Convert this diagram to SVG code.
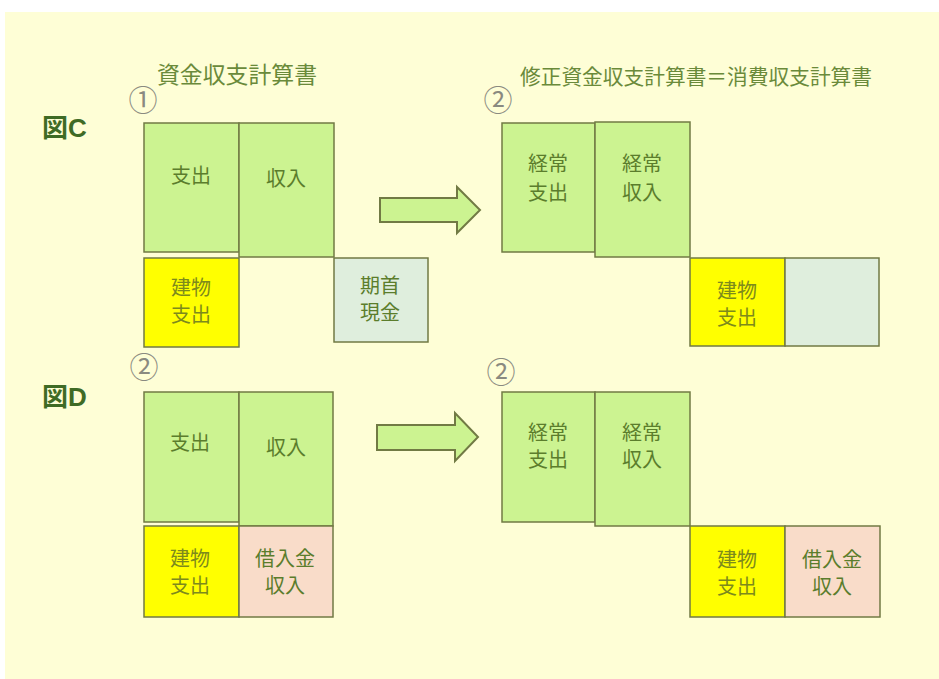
<svg xmlns="http://www.w3.org/2000/svg" width="939" height="679" viewBox="0 0 939 679">
<style>
.bx{stroke:#717a44;stroke-width:1.5}
.g{fill:#ccf391}
.y{fill:#ffff00}
.c{fill:#dfeedd}
.p{fill:#f9dcc9}
.t{font-family:"Noto Sans CJK JP","Noto Sans",sans-serif;font-size:20px;fill:#5b7d2c;text-anchor:middle}
.ty{fill:#7d8a1c}
.h{font-family:"Noto Sans CJK JP","Noto Sans",sans-serif;fill:#6a8a3a}
.n{font-family:"Noto Sans CJK JP","Noto Sans",sans-serif;font-size:29px;fill:#8a8a80;text-anchor:middle}
.f{font-family:"Liberation Sans","Noto Sans CJK JP",sans-serif;font-size:26px;font-weight:bold;fill:#3f6b25}
.ar{fill:#ccf391;stroke:#717a44;stroke-width:2}
</style>
<rect x="0" y="0" width="939" height="679" fill="#ffffff"/>
<rect x="5" y="12" width="934" height="667" fill="#fefed6"/>

<g id="headings">
<text class="h" x="157" y="83" font-size="23" textLength="160" lengthAdjust="spacingAndGlyphs">資金収支計算書</text>
<text class="h" x="520" y="84" font-size="21" textLength="352" lengthAdjust="spacingAndGlyphs">修正資金収支計算書＝消費収支計算書</text>
<text class="f" x="42" y="137">図C</text>
<text class="f" x="42" y="406">図D</text>
<text class="n" x="143" y="111">①</text>
<text class="n" x="498" y="111">②</text>
<text class="n" x="144" y="378">②</text>
<text class="n" x="501" y="383">②</text>
</g>

<g id="connectors">
<polygon class="ar" points="380,198 457,198 457,187 480,210 457,233 457,222 380,222"/>
<polygon class="ar" points="377,425 455,425 455,413 478,437 455,461 455,450 377,450"/>
</g>

<g id="c1-shishutsu"><rect class="bx g" x="144" y="123" width="95" height="129"/><text class="t" x="191" y="183">支出</text></g>
<g id="c1-shunyu"><rect class="bx g" x="239" y="123" width="95" height="134"/><text class="t" x="286" y="186">収入</text></g>
<g id="c1-tatemono"><rect class="bx y" x="144" y="258" width="95" height="89"/><text class="t ty" x="191" y="295">建物</text><text class="t ty" x="191" y="322">支出</text></g>
<g id="c1-kishu"><rect class="bx c" x="334" y="258" width="94" height="84"/><text class="t" x="380" y="293">期首</text><text class="t" x="380" y="320">現金</text></g>

<g id="c2-keijo-shishutsu"><rect class="bx g" x="502" y="123" width="93" height="129"/><text class="t" x="548" y="171">経常</text><text class="t" x="548" y="200">支出</text></g>
<g id="c2-keijo-shunyu"><rect class="bx g" x="595" y="122" width="95" height="135"/><text class="t" x="642" y="171">経常</text><text class="t" x="642" y="200">収入</text></g>
<g id="c2-tatemono"><rect class="bx y" x="690" y="258" width="95" height="88"/><text class="t ty" x="737" y="298">建物</text><text class="t ty" x="737" y="325">支出</text></g>
<g id="c2-empty"><rect class="bx c" x="785" y="258" width="94" height="88"/></g>

<g id="d1-shishutsu"><rect class="bx g" x="144" y="392" width="95" height="130"/><text class="t" x="190" y="450">支出</text></g>
<g id="d1-shunyu"><rect class="bx g" x="239" y="392" width="94" height="134"/><text class="t" x="286" y="455">収入</text></g>
<g id="d1-tatemono"><rect class="bx y" x="144" y="526" width="95" height="91"/><text class="t ty" x="190" y="566">建物</text><text class="t ty" x="190" y="593">支出</text></g>
<g id="d1-kariire"><rect class="bx p" x="239" y="526" width="94" height="91"/><text class="t" x="285" y="566">借入金</text><text class="t" x="285" y="593">収入</text></g>

<g id="d2-keijo-shishutsu"><rect class="bx g" x="502" y="392" width="93" height="130"/><text class="t" x="548" y="440">経常</text><text class="t" x="548" y="467">支出</text></g>
<g id="d2-keijo-shunyu"><rect class="bx g" x="595" y="392" width="95" height="134"/><text class="t" x="642" y="440">経常</text><text class="t" x="642" y="467">収入</text></g>
<g id="d2-tatemono"><rect class="bx y" x="690" y="526" width="95" height="91"/><text class="t ty" x="737" y="567">建物</text><text class="t ty" x="737" y="594">支出</text></g>
<g id="d2-kariire"><rect class="bx p" x="785" y="526" width="95" height="91"/><text class="t" x="832" y="567">借入金</text><text class="t" x="832" y="594">収入</text></g>
</svg>
